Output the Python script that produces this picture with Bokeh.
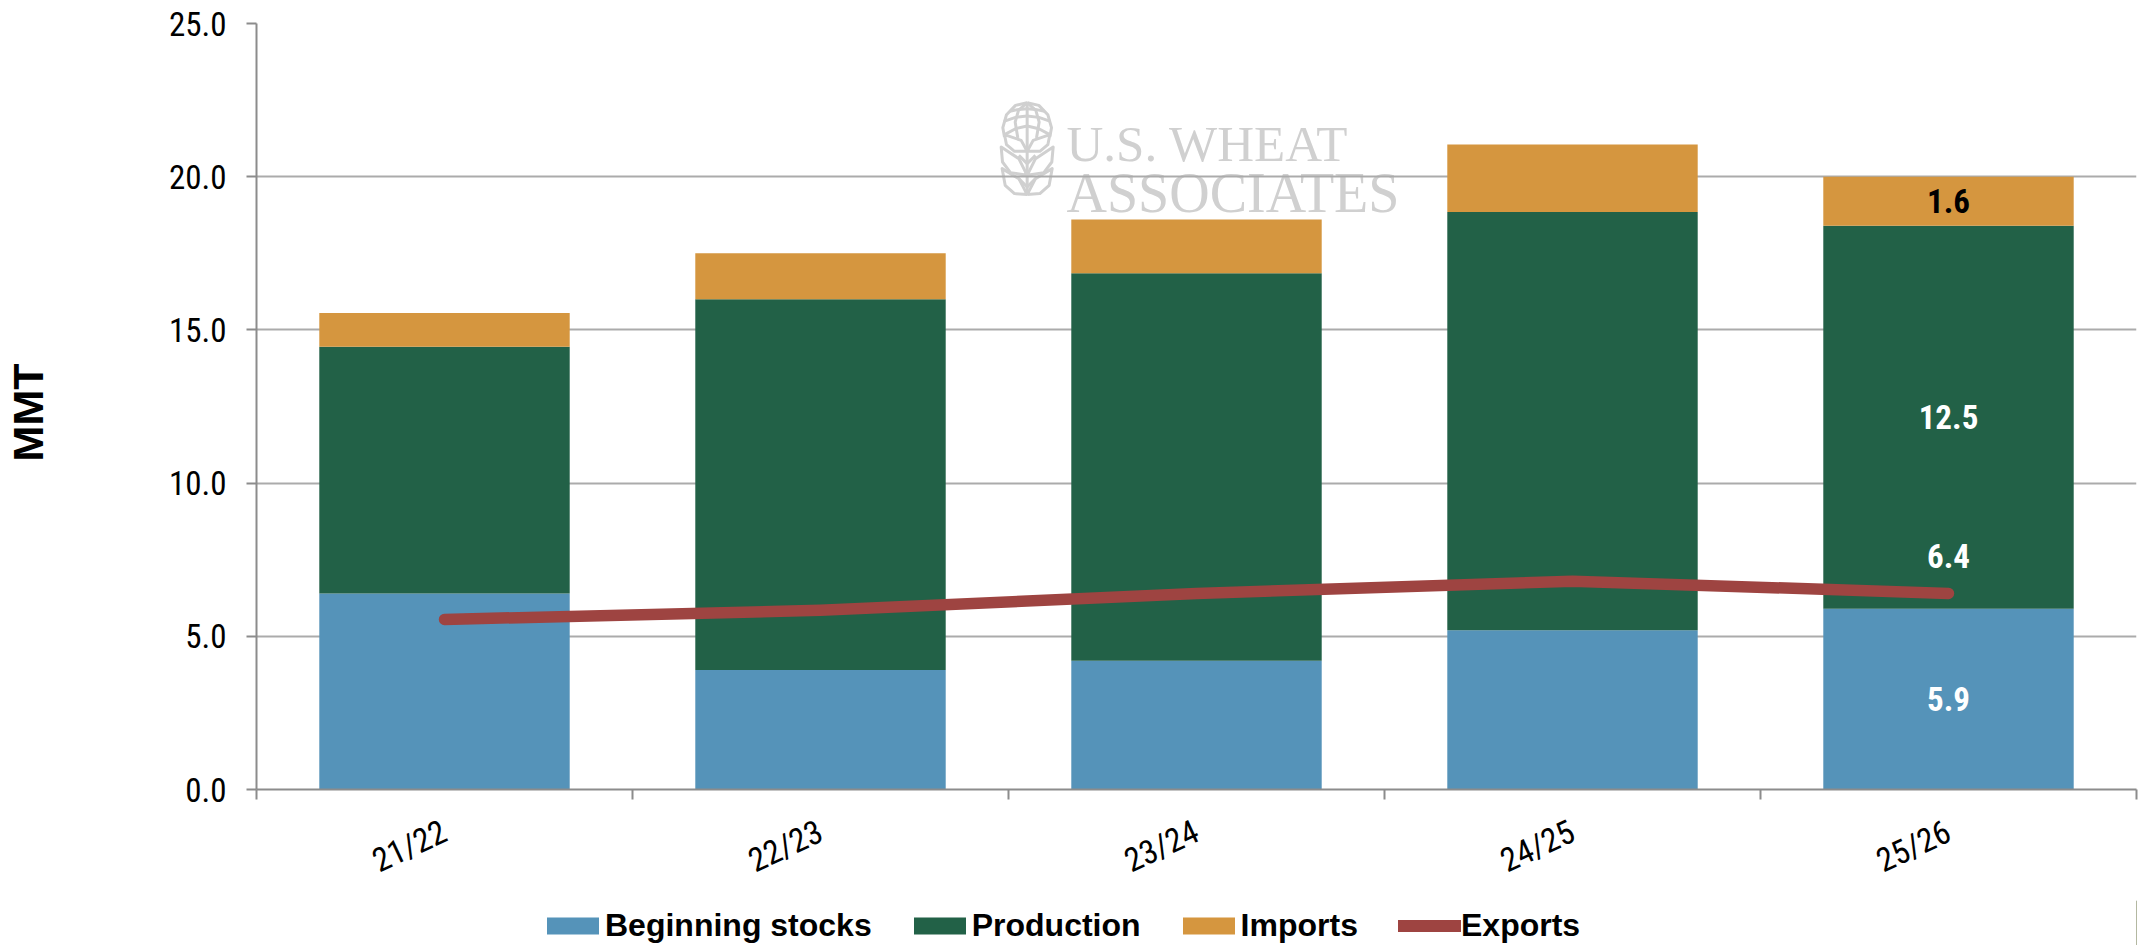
import math
from bokeh.plotting import figure
from bokeh.layouts import column
from bokeh.models import (ColumnDataSource, Range1d, FixedTicker, Legend, LegendItem, Label)
from bokeh.core.properties import value
from bokeh.embed import file_html
from bokeh.resources import INLINE

categories = ["21/22", "22/23", "23/24", "24/25", "25/26"]
beginning_stocks = [6.4, 3.9, 4.2, 5.2, 5.9]
production = [8.05, 12.1, 12.65, 13.65, 12.5]
imports = [1.1, 1.5, 1.75, 2.2, 1.6]
exports = [5.55, 5.85, 6.4, 6.8, 6.4]
y_ticks = [0, 5, 10, 15, 20, 25]

BLUE, GREEN, ORANGE, RED = "#5593B9", "#226147", "#D5963F", "#9E4441"
GRID, AXIS, MARK = "#ababab", "#8c8c8c", "#d0d0d0"
NARROW = "Roboto Condensed"
ARIAL = "Liberation Sans"

centers = [i + 0.5 for i in range(len(categories))]
b1 = [a + b for a, b in zip(beginning_stocks, production)]
b2 = [a + b for a, b in zip(b1, imports)]

p = figure(width=2138, height=900, output_backend="svg", toolbar_location=None,
           x_range=Range1d(0, 5), y_range=Range1d(0, 25),
           min_border_left=256, min_border_right=2, min_border_top=23, min_border_bottom=110,
           outline_line_color=None, background_fill_color="white", border_fill_color="white")

# axes
xa = p.xaxis[0]
xa.ticker = FixedTicker(ticks=centers, minor_ticks=list(range(len(categories) + 1)))
xa.major_label_overrides = {c: l for c, l in zip(centers, categories)}
xa.major_tick_line_color = None
xa.major_tick_in = 0
xa.major_tick_out = 0
xa.minor_tick_in = 0
xa.minor_tick_out = 10
xa.minor_tick_line_color = AXIS
xa.minor_tick_line_width = 2
xa.axis_line_color = AXIS
xa.axis_line_width = 2
xa.major_label_orientation = math.radians(25)
xa.major_label_standoff = 30
xa.major_label_text_font = NARROW
xa.major_label_text_font_size = "33px"
xa.major_label_text_color = "black"

ya = p.yaxis[0]
ya.ticker = FixedTicker(ticks=y_ticks)
ya.major_label_overrides = {t: f"{t:.1f}" for t in y_ticks}
ya.minor_tick_line_color = None
ya.major_tick_in = 0
ya.major_tick_out = 10
ya.major_tick_line_color = AXIS
ya.major_tick_line_width = 2
ya.axis_line_color = AXIS
ya.axis_line_width = 2
ya.major_label_standoff = 20
ya.major_label_text_font = NARROW
ya.major_label_text_font_size = "33px"
ya.major_label_text_color = "black"
ya.axis_label = "MMT\u00a0"
ya.axis_label_standoff = 114
ya.axis_label_text_font = ARIAL
ya.axis_label_text_font_style = "bold"
ya.axis_label_text_font_size = "43px"
ya.axis_label_text_color = "black"

p.xgrid.visible = False
p.ygrid.ticker = FixedTicker(ticks=y_ticks[1:])
p.ygrid.grid_line_color = GRID
p.ygrid.grid_line_width = 2

# watermark, placed in reference pixels
def dx(px):
    return (px - 256) / 376
def dy(py):
    return (790 - py) / 30.68
def logo(pts):
    return [dx(990 + a / 3) for a, _ in pts], [dy(95 + b / 3) for _, b in pts]

half = [
    [(110, 22), (75, 30), (48, 58), (37, 97), (42, 125)],
    [(110, 22), (84, 45), (74, 80), (82, 128)],
    [(58, 48), (85, 42), (110, 40)],
    [(40, 78), (75, 66), (110, 62)],
    [(42, 118), (75, 100), (110, 92)],
    [(110, 168), (92, 135), (42, 118), (48, 148), (72, 168), (110, 168)],
    [(110, 240), (85, 190), (32, 155), (36, 200), (60, 232), (110, 240)],
    [(110, 298), (85, 250), (35, 220), (44, 270), (72, 295), (110, 298)],
    [(85, 180), (110, 205)],
    [(85, 250), (110, 275)],
]
xs, ys = [], []
for line in half:
    for mirrored in (line, [(220 - a, b) for a, b in line]):
        lx, ly = logo(mirrored)
        xs.append(lx)
        ys.append(ly)
lx, ly = logo([(110, 22), (110, 298)])
xs.append(lx)
ys.append(ly)
p.multi_line(xs, ys, line_color=MARK, line_width=3, line_join="round", level="image")
for txt, px, base, size in [("U.S. WHEAT", 1066, 144, 51), ("ASSOCIATES", 1066, 193, 56)]:
    p.add_layout(Label(x=dx(px), y=dy(base), text=txt, text_font="Liberation Serif",
                       text_font_size=f"{size}px", text_color=MARK, text_baseline="alphabetic",
                       level="image"))

# bars
src = ColumnDataSource(dict(x=centers, b0=[0] * len(centers), s=beginning_stocks, b1=b1, b2=b2, e=exports))
w = 0.666
p.vbar(x="x", bottom="b0", top="s", width=w, source=src, fill_color=BLUE, line_color=None)
p.vbar(x="x", bottom="s", top="b1", width=w, source=src, fill_color=GREEN, line_color=None)
p.vbar(x="x", bottom="b1", top="b2", width=w, source=src, fill_color=ORANGE, line_color=None)
p.line(x="x", y="e", source=src, line_color=RED, line_width=11.5, line_cap="round", line_join="round")

# data labels of the last season
last = centers[-1]
lab_src = ColumnDataSource(dict(
    x=[last] * 4,
    y=[beginning_stocks[-1] / 2, exports[-1], beginning_stocks[-1] + production[-1] / 2, b1[-1] + imports[-1] / 2],
    t=[f"{beginning_stocks[-1]:.1f}", f"{exports[-1]:.1f}", f"{production[-1]:.1f}", f"{imports[-1]:.1f}"],
    c=["white", "white", "white", "black"],
    o=[0, -37, 0, 0],
))
p.text(x="x", y="y", text="t", text_color="c", y_offset="o", source=lab_src, text_align="center",
       text_baseline="middle", text_font=value(NARROW), text_font_style="bold", text_font_size="33px")

# legend strip under the chart: its renderers sit outside the strip's ranges, only their keys show
lg = figure(width=2138, height=45, output_backend="svg", toolbar_location=None,
            x_range=Range1d(0, 1), y_range=Range1d(0, 1), x_axis_location=None, y_axis_location=None,
            min_border_left=256, min_border_right=2, min_border_top=0, min_border_bottom=0,
            outline_line_color=None, background_fill_color="white", border_fill_color="white")
lg.xgrid.visible = False
lg.ygrid.visible = False
g1 = lg.vbar(x=[5], top=[6], width=0.5, fill_color=BLUE, line_color=None)
g2 = lg.vbar(x=[5], top=[6], width=0.5, fill_color=GREEN, line_color=None)
g3 = lg.vbar(x=[5], top=[6], width=0.5, fill_color=ORANGE, line_color=None)
g4 = lg.line(x=[5, 6], y=[5, 6], line_color=RED, line_width=12, line_cap="round")
common = dict(orientation="horizontal", padding=0, margin=0, border_line_color=None,
              background_fill_alpha=0, label_text_font=ARIAL, label_text_font_style="bold",
              label_text_font_size="32px", label_text_color="black", label_height=21)
lg.add_layout(Legend(items=[LegendItem(label="Beginning stocks", renderers=[g1]),
                            LegendItem(label="Production", renderers=[g2]),
                            LegendItem(label="Imports", renderers=[g3])],
                     location=(284, 1), spacing=35, glyph_width=65, glyph_height=21, label_standoff=0, **common))
lg.add_layout(Legend(items=[LegendItem(label="Exports", renderers=[g4])],
                     location=(1142, 1), spacing=0, glyph_width=63, glyph_height=21, label_standoff=0, **common))

page = column(p, lg, spacing=0)
open("out.html", "w").write(file_html(page, INLINE))
